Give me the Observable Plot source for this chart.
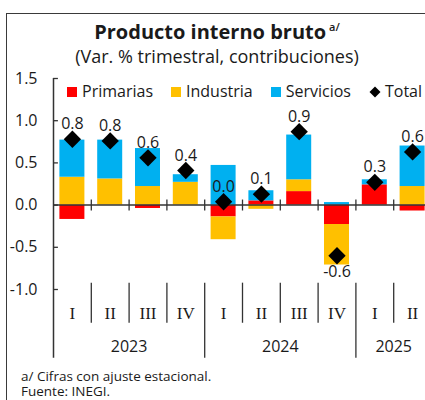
<!DOCTYPE html>
<html><head><meta charset="utf-8">
<script src="https://cdn.jsdelivr.net/npm/d3@7"></script>
<script src="https://cdn.jsdelivr.net/npm/@observablehq/plot@0.6"></script>
<style>
html,body{margin:0;padding:0;overflow:hidden;background:#fff;width:425px;height:400px;}
#wrap{position:relative;width:425px;height:400px;font-family:"Open Sans",sans-serif;color:#1a1a1a;overflow:hidden;}
#box{position:absolute;left:6px;top:13px;width:600px;height:600px;border-left:1.5px solid #3a3a3a;border-top:1.5px solid #3a3a3a;box-sizing:border-box;}
#chart{position:absolute;left:0;top:0;width:440px;height:400px;}
#chart svg{max-width:none !important;height:400px !important;}
.t{position:absolute;left:6px;width:422px;text-align:center;white-space:nowrap;}
#title{top:20px;font-size:20px;font-weight:700;line-height:24px;}
#title sup{font-size:11px;font-weight:600;vertical-align:0;position:relative;top:-8px;margin-left:3px;}
#sub{top:45px;font-size:18px;line-height:22px;}
#legend{position:absolute;left:67px;top:81px;display:flex;align-items:center;font-size:16px;line-height:20px;white-space:nowrap;}
#legend .sw{display:inline-block;width:10px;height:10px;margin-right:5px;margin-top:2px;}
#legend .it{display:flex;align-items:center;margin-right:18px;}
#foot{position:absolute;left:21px;top:369px;font-size:13.5px;line-height:14.5px;white-space:nowrap;}
</style></head>
<body>
<div id="wrap">
  <div id="box"></div>
  <div id="chart"></div>
  <div class="t" id="title">Producto interno bruto<sup>a/</sup></div>
  <div class="t" id="sub">(Var. % trimestral, contribuciones)</div>
  <div id="legend"></div>
  <div id="foot">a/ Cifras con ajuste estacional.<br>Fuente: INEGI.</div>
</div>
<script>
// ---- data ----
const quarters = ["I","II","III","IV","I","II","III","IV","I","II"];
const years = ["2023","2024","2025"];
const yearCounts = [4, 4, 2];
const primarias = [-0.17, 0.00, -0.04, 0.00, -0.14, 0.05, 0.16, -0.23, 0.24, -0.07];
const industria = [0.33, 0.31, 0.22, 0.27, -0.27, -0.05, 0.14, -0.48, 0.00, 0.22];
const servicios = [0.44, 0.46, 0.45, 0.09, 0.47, 0.12, 0.53, 0.03, 0.06, 0.48];
const total = [0.78, 0.76, 0.56, 0.41, 0.04, 0.13, 0.87, -0.60, 0.27, 0.63];
const seriesNames = ["Primarias", "Industria", "Servicios"];
const seriesColors = ["#ff0000", "#ffc000", "#00b0f0"];
const yTicks = [-1.0, -0.5, 0.0, 0.5, 1.0, 1.5];

// ---- derived tables ----
const seriesValues = [primarias, industria, servicios];
const rows = [];
seriesNames.forEach((s, k) => seriesValues[k].forEach((v, i) => rows.push({i, serie: s, value: v})));
const totals = total.map((v, i) => ({i, v}));
const qLabels = quarters.map((q, i) => ({i, q}));
let start = 0;
const yearRows = years.map((y, k) => { const r = {y, start, end: start + yearCounts[k]}; start += yearCounts[k]; return r; });
const n = quarters.length;
const innerSeps = d3.range(1, n).filter(i => !yearRows.some(r => r.start === i));
const yearSeps = yearRows.map(r => r.start).filter(s => s > 0);

// layout levels below the axis (in y units)
const sepTop = -0.925, qSepBottom = -1.40, ySepBottom = -1.815, qLabelY = -1.28, yearLabelY = -1.685;

const chart = Plot.plot({
  width: 440, height: 400,
  marginLeft: 53, marginRight: 9, marginTop: 78, marginBottom: 111,
  style: {fontFamily: "Open Sans, sans-serif", fontSize: "16px", color: "#1a1a1a", background: "transparent", overflow: "visible", maxWidth: "none"},
  x: {domain: [0, n], axis: null},
  y: {domain: [-1, 1.5], axis: null},
  color: {domain: seriesNames, range: seriesColors},
  marks: [
    Plot.rectY(rows, {x1: d => d.i, x2: d => d.i + 1, y: "value", fill: "serie", insetLeft: 6.4, insetRight: 6.4}),
    Plot.axisY(yTicks, {anchor: "left", tickSize: 0, tickPadding: 16, tickFormat: d => d.toFixed(1), fontSize: 16, fill: "#1a1a1a"}),
    Plot.ruleY(yTicks, {x1: 0, x2: 0.13, stroke: "#333", strokeWidth: 1.3}),
    Plot.ruleX([0], {y1: 1.5, y2: ySepBottom, stroke: "#333", strokeWidth: 1.5}),
    Plot.ruleY([0], {x1: 0, x2: n, stroke: "#333", strokeWidth: 1.5}),
    Plot.ruleX(d3.range(1, n), {y1: 0.06, y2: -0.07, stroke: "#333", strokeWidth: 1.3}),
    Plot.ruleX(innerSeps, {y1: sepTop, y2: qSepBottom, stroke: "#333", strokeWidth: 1.3}),
    Plot.ruleX(yearSeps, {y1: sepTop, y2: ySepBottom, stroke: "#333", strokeWidth: 1.3}),
    Plot.text(qLabels, {x: d => d.i + 0.5, y: qLabelY, text: "q", fontFamily: "Liberation Serif, serif", fontSize: 17, fill: "#1a1a1a"}),
    Plot.text(yearRows, {x: d => (d.start + d.end) / 2, y: yearLabelY, text: "y", fontSize: 16, fill: "#1a1a1a"}),
    Plot.dot(totals, {x: d => d.i + 0.5, y: "v", symbol: "diamond2", r: 7.8, fill: "#000", stroke: "none"}),
    Plot.text(totals.filter(d => d.v >= 0), {x: d => d.i + 0.5, y: "v", text: d => d.v.toFixed(1), dy: -15, fontSize: 16, fill: "#1a1a1a"}),
    Plot.text(totals.filter(d => d.v < 0), {x: d => d.i + 0.5, y: "v", text: d => d.v.toFixed(1), dy: 16, fontSize: 16, fill: "#1a1a1a"})
  ]
});
document.getElementById("chart").appendChild(chart);

// legend
const lg = document.getElementById("legend");
seriesNames.forEach((s, k) => {
  const it = document.createElement("div"); it.className = "it";
  it.innerHTML = `<span class="sw" style="background:${seriesColors[k]}"></span><span>${s}</span>`;
  lg.appendChild(it);
});
const tt = document.createElement("div"); tt.className = "it"; tt.style.marginRight = "0";
tt.innerHTML = `<svg width="12" height="12" style="margin-right:4px;margin-top:2px"><path d="M6 0.5L11.5 6L6 11.5L0.5 6Z" fill="#000"/></svg><span>Total</span>`;
lg.appendChild(tt);
</script>
</body></html>
